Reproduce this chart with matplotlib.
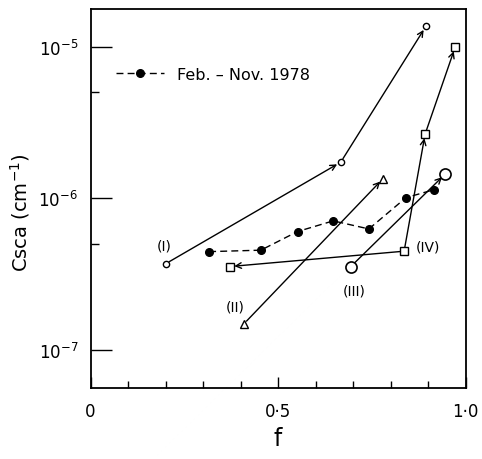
import matplotlib
matplotlib.use("Agg")
import matplotlib.pyplot as plt
from matplotlib.ticker import FixedLocator, NullFormatter

# ---- data ----
f_I = [0.200, 0.667, 0.894]
c_I = [3.7e-7, 1.73e-6, 1.36e-5]

f_II = [0.408, 0.780]
c_II = [1.48e-7, 1.35e-6]

f_III = [0.694, 0.945]
c_III = [3.55e-7, 1.44e-6]

# (IV): start point, then branch left and branch up
f_IV_start = 0.836
c_IV_start = 4.48e-7
f_IV_left = [0.372]
c_IV_left = [3.55e-7]
f_IV_up = [0.892, 0.972]
c_IV_up = [2.65e-6, 9.9e-6]

f_feb = [0.316, 0.454, 0.552, 0.647, 0.742, 0.841, 0.916]
c_feb = [4.45e-7, 4.55e-7, 6.04e-7, 7.1e-7, 6.28e-7, 1.01e-6, 1.14e-6]

labels = ["(I)", "(II)", "(III)", "(IV)"]
label_f = [0.195, 0.385, 0.702, 0.9]
label_c = [4.4e-7, 1.74e-7, 2.22e-7, 4.35e-7]

legend_label = "Feb. \u2013 Nov. 1978"
xtick_vals = [0, 0.5, 1.0]
xtick_labels = ["0", "0\u00b75", "1\u00b70"]
ytick_vals = [1e-7, 1e-6, 1e-5]
ytick_labels = [r"$10^{-7}$", r"$10^{-6}$", r"$10^{-5}$"]

plt.rcParams['font.family'] = ['DejaVu Sans']
fig = plt.figure(figsize=(4.82, 4.60), dpi=100)
ax = fig.add_axes([0.188, 0.154, 0.778, 0.825])
ax.set_yscale('log')
ax.set_xlim(0, 1.0)
ax.set_ylim(5.6e-8, 1.78e-5)

k = 'black'
arrow_kw = dict(arrowstyle='->', color=k, lw=1.0, mutation_scale=10,
                shrinkA=3, shrinkB=3)

def chain(xs, ys):
    for i in range(len(xs) - 1):
        ax.annotate('', xy=(xs[i + 1], ys[i + 1]), xytext=(xs[i], ys[i]),
                    arrowprops=arrow_kw)

# series I
chain(f_I, c_I)
ax.plot(f_I, c_I, 'o', ms=4.5, mfc='white', mec=k, mew=1.0, zorder=5)
# series II
chain(f_II, c_II)
ax.plot(f_II, c_II, '^', ms=5.5, mfc='white', mec=k, mew=1.0, zorder=5)
# series III
chain(f_III, c_III)
ax.plot(f_III, c_III, 'o', ms=8, mfc='white', mec=k, mew=1.2, zorder=5)
# series IV
chain([f_IV_start] + f_IV_left, [c_IV_start] + c_IV_left)
chain([f_IV_start] + f_IV_up, [c_IV_start] + c_IV_up)
ax.plot([f_IV_start] + f_IV_left + f_IV_up, [c_IV_start] + c_IV_left + c_IV_up,
        's', ms=5.5, mfc='white', mec=k, mew=1.0, zorder=5)
# Feb-Nov 1978
ax.plot(f_feb, c_feb, '--o', color=k, lw=1.0, ms=5.5, dashes=(5, 3), zorder=4,
        label=legend_label)

for t, x, y in zip(labels, label_f, label_c):
    ax.text(x, y, t, ha='center', va='bottom', fontsize=10)

leg = ax.legend(loc='upper left', bbox_to_anchor=(0.03, 0.885), frameon=False,
                fontsize=11.5, handlelength=3.0, handletextpad=0.8)

# ticks
ax.set_xticks(xtick_vals)
ax.set_xticklabels(xtick_labels, fontsize=12)
ax.xaxis.set_minor_locator(FixedLocator([0.1, 0.2, 0.3, 0.4, 0.6, 0.7, 0.8, 0.9]))
ax.tick_params(axis='x', which='major', direction='in', length=8, width=1.0, pad=10)
ax.tick_params(axis='x', which='minor', direction='in', length=5, width=1.0)

ax.yaxis.set_major_locator(FixedLocator(ytick_vals))
ax.set_yticklabels(ytick_labels, fontsize=12)
ax.yaxis.set_minor_locator(FixedLocator([5e-7, 5e-6]))
ax.yaxis.set_minor_formatter(NullFormatter())
ax.tick_params(axis='y', which='major', direction='in', length=15, width=1.0, pad=9)
ax.tick_params(axis='y', which='minor', direction='in', length=6, width=1.0)

for s in ax.spines.values():
    s.set_linewidth(1.3)

ax.set_xlabel('f', fontsize=17, labelpad=4)
ax.set_ylabel(r'Csca (cm$^{-1}$)', fontsize=14, labelpad=10)
ax.yaxis.set_label_coords(-0.155, 0.466)

fig.savefig('out.png', dpi=100)
